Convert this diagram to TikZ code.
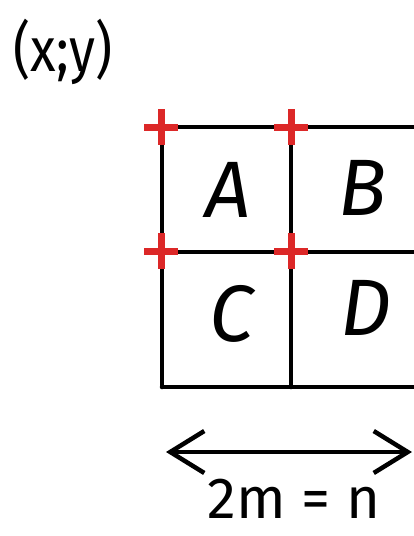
\documentclass[tikz,border=0pt]{standalone}
\usepackage{fontspec}
\setmainfont{Fira Sans}
\usepackage{tikz}
\usetikzlibrary{arrows.meta,positioning,calc}
\definecolor{mark}{RGB}{220,40,40}

\begin{document}
\begin{tikzpicture}[x=1pt, y=-1pt,
  gridline/.style={line width=4.5pt, color=black, line cap=round},
  cell/.style={font=\fontsize{80}{80}\selectfont\itshape, inner sep=0pt},
  corner/.style={line width=7pt, color=mark},
  span/.style={{Straight Barb[length=34pt,width=42pt,line width=4.5pt]}-{Straight Barb[length=34pt,width=42pt,line width=4.5pt]}, line width=4.5pt}]
  \useasboundingbox (0,0) rectangle (414,536);
  % coordinates label
  \node[font=\fontsize{62}{62}\selectfont, xscale=0.85] (xy) at (63,52) {(x;y)};
  % grid
  \draw[gridline] (162,127) -- (416,127);
  \draw[gridline] (162,252) -- (416,252);
  \draw[gridline] (162,387) -- (416,387);
  \draw[gridline] (162,127) -- (162,387);
  \draw[gridline] (291,127) -- (291,387);
  \node[cell] (a) at (228,190) {A};
  \node[cell] (b) at (363,188) {B};
  \node[cell] (c) at (232,314) {C};
  \node[cell] (d) at (366,308) {D};
  % red corners
  \foreach \px/\py in {161/127, 291/127, 161/251, 291/251}
    \draw[corner] (\px-17,\py) -- (\px+17,\py) (\px,\py-18) -- (\px,\py+18);
  % width
  \coordinate (l) at (166,452);
  \coordinate (r) at (412,452);
  \draw[span] (l) -- (r);
  \node[font=\fontsize{58}{58}\selectfont, below=24pt of $(l)!0.52!(r)$] (n) {2m = n};
\end{tikzpicture}
\end{document}
